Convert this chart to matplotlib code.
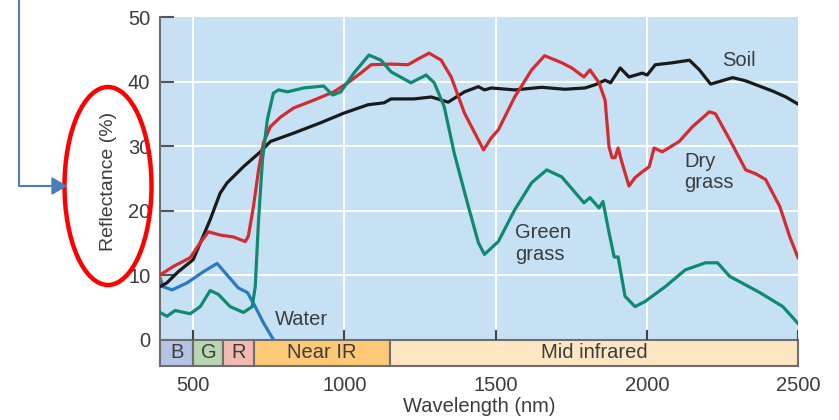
#!/usr/bin/env python3
# -*- coding: utf-8 -*-
"""
Spectral reflectance curves of soil, dry grass, green grass and water,
with the B / G / R / Near IR / Mid infrared band strip under the axis.
"""

import numpy as np
import matplotlib
matplotlib.use("Agg")
import matplotlib.pyplot as plt
from matplotlib.patches import Rectangle, Ellipse, Polygon
from matplotlib.lines import Line2D

plt.rcParams['font.family'] = ['Liberation Sans', 'DejaVu Sans']

# ---------------------------------------------------------------------------
# data
# ---------------------------------------------------------------------------
soil_x = [390, 413, 450, 500, 556, 589, 612, 666, 722, 755, 832, 921, 998, 1078,
          1131, 1154, 1230, 1287, 1343, 1397, 1443, 1463, 1486, 1563, 1652, 1729,
          1796, 1829, 1862, 1880, 1912, 1941, 1985, 2001, 2028, 2084, 2141, 2174,
          2211, 2284, 2327, 2417, 2460, 2500]
soil_y = [8.2, 8.8, 10.5, 12.4, 18.6, 22.7, 24.3, 26.8, 29.1, 30.7, 32.0, 33.6,
          35.1, 36.4, 36.7, 37.3, 37.3, 37.6, 36.8, 38.4, 39.2, 38.7, 39.0, 38.7,
          39.1, 38.8, 39.0, 39.5, 40.2, 39.8, 42.1, 40.7, 41.3, 41.0, 42.6, 42.9,
          43.3, 41.8, 39.6, 40.6, 40.1, 38.5, 37.6, 36.5]

dry_x = [390, 433, 490, 523, 550, 589, 633, 672, 682, 699, 716, 732, 755, 789,
         832, 898, 965, 1011, 1054, 1088, 1154, 1210, 1244, 1280, 1320, 1353,
         1397, 1460, 1486, 1509, 1563, 1619, 1662, 1719, 1752, 1792, 1812, 1842,
         1862, 1875, 1885, 1895, 1905, 1918, 1941, 1961, 1985, 2008, 2024, 2051,
         2107, 2151, 2207, 2227, 2274, 2327, 2360, 2393, 2440, 2473, 2500]
dry_y = [10.0, 11.3, 12.7, 15.0, 16.7, 16.2, 15.9, 15.2, 16.0, 20.6, 26.3, 30.5,
         33.0, 34.5, 35.9, 37.1, 38.4, 39.8, 41.3, 42.6, 42.7, 42.6, 43.5, 44.4,
         43.3, 40.7, 35.1, 29.4, 31.3, 32.5, 37.6, 41.8, 44.0, 42.9, 42.1, 40.7,
         41.8, 39.8, 37.1, 29.9, 28.2, 28.2, 29.7, 27.4, 23.8, 25.1, 26.0, 26.8,
         29.7, 29.1, 30.7, 33.0, 35.3, 35.0, 31.0, 26.3, 25.7, 24.8, 20.6, 15.9,
         12.7]

green_x = [390, 413, 440, 490, 523, 556, 583, 622, 666, 695, 705, 716, 729, 745,
           765, 782, 812, 865, 931, 961, 988, 1031, 1081, 1121, 1154, 1220, 1270,
           1297, 1330, 1363, 1410, 1443, 1463, 1509, 1563, 1619, 1669, 1719, 1792,
           1812, 1842, 1855, 1875, 1892, 1905, 1928, 1961, 1994, 2061, 2127, 2194,
           2234, 2274, 2373, 2450, 2500]
green_y = [4.2, 3.6, 4.5, 4.0, 5.1, 7.6, 7.0, 5.1, 4.2, 5.1, 8.2, 18.6, 27.9, 34.1,
           38.2, 38.7, 38.4, 39.0, 39.3, 37.9, 38.4, 41.3, 44.1, 43.3, 41.5, 39.8,
           41.0, 39.8, 36.1, 28.9, 20.6, 15.0, 13.2, 15.2, 20.1, 24.3, 26.3, 25.2,
           21.2, 22.0, 20.4, 21.4, 16.6, 12.8, 12.8, 6.7, 5.1, 5.9, 8.2, 10.8,
           11.9, 11.9, 9.8, 7.3, 5.1, 2.5]

water_x = [390, 400, 430, 480, 533, 579, 612, 649, 679, 705, 732, 765]
water_y = [9.6, 8.2, 7.7, 8.8, 10.5, 11.8, 10.0, 8.0, 7.3, 5.1, 2.6, 0.0]

band_names = ["B", "G", "R", "Near IR", "Mid infrared"]
band_edges = [390, 500, 600, 700, 1150, 2500]
band_colors = ["#b4c3e6", "#b7d6b1", "#f2bbb0", "#fec977", "#fee6c3"]

x_ticks = [500, 1000, 1500, 2000, 2500]
y_ticks = [0, 10, 20, 30, 40, 50]

# ---------------------------------------------------------------------------
# figure
# ---------------------------------------------------------------------------
W, H = 839, 420
txt = '#3c3c3c'
fs = 14.5
band_h = 4.1

fig = plt.figure(figsize=(W / 100, H / 100), dpi=100)
ax = fig.add_axes([160 / W, 1 - 366 / H, 638 / W, 349 / H])
ax.set_facecolor('#c6e1f4')
ax.set_xlim(390, 2500)
ax.set_ylim(-band_h, 50)

for s in ['top', 'right', 'bottom']:
    ax.spines[s].set_visible(False)
ax.spines['left'].set_color('#6e6e6e')
ax.spines['left'].set_linewidth(1.5)

# white grid
ax.hlines([10, 20, 30, 40], 390, 2500, color='white', lw=1.4, zorder=1)
ax.vlines([500, 1000, 1500, 2000], 0, 50, color='white', lw=1.4, zorder=1)

ax.plot(soil_x, soil_y, color='#1a1a1a', lw=2.3, solid_joinstyle='round', zorder=3)
ax.plot(dry_x, dry_y, color='#d52b30', lw=2.3, solid_joinstyle='round', zorder=4)
ax.plot(green_x, green_y, color='#0f8a70', lw=2.3, solid_joinstyle='round', zorder=5)
ax.plot(water_x, water_y, color='#2a79c1', lw=2.3, solid_joinstyle='round', zorder=2)

ax.text(2250, 43.3, "Soil", fontsize=fs, color=txt, va='center')
ax.text(2124, 26.0, "Dry\ngrass", fontsize=fs, color=txt, va='center', linespacing=1.15)
ax.text(1563, 14.9, "Green\ngrass", fontsize=fs, color=txt, va='center', linespacing=1.15)
ax.text(770, 3.1, "Water", fontsize=fs, color=txt, va='center')

# band strip under the curves
for i, name in enumerate(band_names):
    x0, x1 = band_edges[i], band_edges[i + 1]
    ax.add_patch(Rectangle((x0, -band_h), x1 - x0, band_h, fc=band_colors[i],
                           ec='#6e6e6e', lw=1.5, zorder=6, clip_on=False))
    ax.text((x0 + x1) / 2, -band_h / 2, name, fontsize=fs, color=txt,
            ha='center', va='center', zorder=7)

# short inward x ticks above the strip
ax.vlines(x_ticks, 0, 1.55, color='#444444', lw=1.5, zorder=6)

ax.set_xticks(x_ticks)
ax.set_yticks(y_ticks)
ax.tick_params(axis='x', length=0, pad=7, labelsize=fs, labelcolor=txt)
ax.tick_params(axis='y', direction='in', length=10, width=1.5, color='#555555',
               pad=7, labelsize=fs, labelcolor=txt)
ax.set_xlabel("Wavelength (nm)", fontsize=fs, color=txt, labelpad=2)
fig.text(108 / W, 1 - 181 / H, "Reflectance (%)", fontsize=fs - 0.5, color=txt,
         rotation=90, ha='center', va='center')

# red ellipse and blue arrow pointing at the y label
fig.add_artist(Ellipse((108 / W, 1 - 186 / H), 87 / W, 198 / H,
                       transform=fig.transFigure, fill=False, ec='#ff0000', lw=3.2))
blue = '#4a7dbd'
fig.add_artist(Line2D([19 / W, 19 / W, 56 / W], [1.0, 1 - 186 / H, 1 - 186 / H],
                      transform=fig.transFigure, color=blue, lw=1.5))
fig.add_artist(Polygon([[52 / W, 1 - 178 / H], [66 / W, 1 - 186 / H], [52 / W, 1 - 194 / H]],
                       closed=True, transform=fig.transFigure, fc=blue, ec=blue))

plt.savefig("out.png", dpi=100)
